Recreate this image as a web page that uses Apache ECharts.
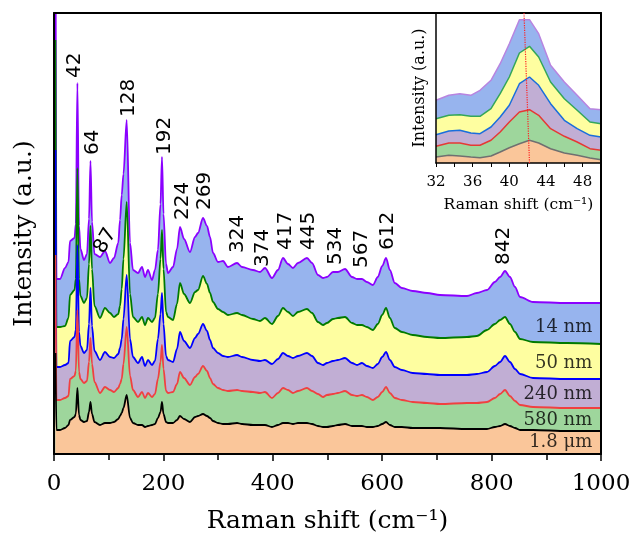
<!DOCTYPE html>
<html><head><meta charset="utf-8">
<script src="https://cdn.jsdelivr.net/npm/echarts@6/dist/echarts.min.js"></script>
<style>html,body{margin:0;padding:0;background:#fff;overflow:hidden}#c{width:634px;height:535px}</style>
</head><body><div id="c"></div>
<script>
// Raman shift positions (cm-1) of the sampled points
const shifts = [2.6,4.5,11,20.1,26.5,29.3,37.5,39.9,42.8,45.7,48.4,54.8,60.3,64,66.7,69.5,74,84.1,93.2,102.4,109.7,117.5,120.7,123.8,127,132.9,139,144.4,153.6,160.9,166.4,171.8,179.2,184.6,190,194.7,197.4,200.2,204.8,208.4,217.6,224.9,230.3,237.7,248.6,257.8,263.3,272.4,279.7,285.2,290.7,299.8,309,318,334.6,343.7,363.8,376.6,385.7,398.5,409.5,418.6,427.8,436.9,446,462.5,471.7,482.6,491.8,499,510,519,532,544.8,554,563,572,583,592,600,607,614,623,636,656,682,705.7,755,773,791.6,806,815.5,824.5,833.6,842.8,852,875.7,937.8,1000];
// stacked (offset) intensities, a.u.
const int14nm = [600,175,175,186,192,213,216,230,371,228,205,194,200,235,293,232,200,197,203,191,196,211,234,259,280,334,211,184,181,187,177,184,174,184,204,250,297,240,190,181,187,205,227,215,202,217,221,236,228,217,201,192,193,187,191,187,184,182,186,176,184,196,190,186,191,196,191,179,176,177,182,182,185,177,175,175,172,169,177,188,196,184,171,166,163,161,159,158,161,164,172,177,183,177,167,157,152,151,151];
const int50nm = [414,127,127,128,136,159,164,175,286,175,158,151,156,190,228,185,148,136,146,141,137,140,148,165,195,252,160,137,132,137,129,136,132,136,160,195,224,185,142,137,134,150,171,160,151,162,164,178,170,161,152,145,142,139,141,139,135,133,136,130,138,146,142,138,142,145,141,132,129,131,135,136,137,131,129,129,127,124,130,139,146,136,126,122,119,117,116,117,118,124,130,134,137,130,122,115,112,111,110];
const int240nm = [304,87,87,89,91,113,117,124,209,122,108,101,104,130,166,128,103,94,102,97,96,100,106,115,135,179,115,97,91,97,88,94,89,93,115,140,161,130,98,94,92,105,122,113,106,116,120,130,123,114,106,101,98,97,99,97,94,93,94,90,95,101,98,96,98,101,98,91,89,91,93,94,96,91,89,91,88,86,90,97,102,94,87,84,81,80,79,79,80,82,88,92,98,92,85,80,76,75,75];
const int580nm = [199,54,54,56,58,75,78,83,144,82,75,71,73,92,116,90,72,61,67,64,62,66,70,75,90,127,78,64,57,62,56,61,57,60,75,92,109,85,63,61,62,70,82,76,69,77,80,88,83,76,70,66,64,63,64,63,62,61,62,56,61,66,64,61,63,66,63,60,57,59,60,61,63,59,58,59,57,54,57,62,67,61,56,54,52,51,50,51,51,52,56,60,64,58,53,49,47,46,46];
const int1p8um = [101,24,24,26,29,34,37,40,66,39,34,32,33,42,52,40,32,29,31,31,32,35,38,41,46,59,36,31,29,29,27,28,29,30,36,42,52,40,32,31,31,34,38,35,32,37,38,40,38,36,33,31,30,30,31,30,29,29,29,27,29,31,31,30,31,31,30,28,27,27,28,29,30,28,28,28,27,27,28,30,32,29,27,27,26,26,26,25,25,25,27,28,30,28,26,24,24,23,23];
const sampleNames = ['14 nm','50 nm','240 nm','580 nm','1.8 μm'];
const sampleLabelY = [127, 91, 60, 34, 12];
// peak annotations
const peakLabels = ['42','64','87','128','192','224','269','324','374','417','445','534','567','612','842'];
const peakLabelX = [37.5,70.4,82.3,136.2,202,235.8,276,336.4,382,424,466,515.5,563,610.6,822.7];
const peakLabelY = [376,299,202,337,299,234,244,201,187,204,204,189,186,204,189];
// inset (zoom of the 42 cm-1 mode)
const insetShift = [32,33.4,34.6,35.8,36.8,38,39,40,41.1,42.2,43.2,44.5,46,47.4,48.8,50];
const inset14nm = [62.7,67.7,69.3,67.7,72.7,82.7,99.3,119.3,143.3,143.3,129.3,97.7,81,67.7,54.3,53.3];
const inset50nm = [44.3,47.7,48.3,46.7,46.7,54.3,69.3,86,110,116.7,106,81,64.3,52.7,41,39.3];
const inset240nm = [28.3,32,32.7,30,29.3,36,46,57.7,79.3,86,77.7,59.3,42.7,34.3,27.7,26];
const inset580nm = [16.7,20,20,17.7,17.7,22.7,31,41,51,53.3,47.7,34.3,26.7,21,14.3,12.7];
const inset1p8um = [6,7.7,7,6,5.3,7,11,15.3,19.3,22.7,20,14.3,10,7.7,5,3.3];
const insetPeakLine = [[41.6,150],[42.2,0]];

const mainSets = [int14nm,int50nm,int240nm,int580nm,int1p8um];
const insetSets = [inset14nm,inset50nm,inset240nm,inset580nm,inset1p8um];
const lineColors = ['#8b00ff','#007a00','#0000ff','#f04040','#000000'];
const insetLineColors = ['#b884e0','#33a65a','#1a6edc','#e53935','#707070'];
const fillColors = ['#97b4ee','#fefea0','#c1aed4','#9ed69c','#fac69a'];
const serif = 'DejaVu Serif';

const series = [];
mainSets.forEach((arr,k)=>{
  series.push({type:'line', xAxisIndex:0, yAxisIndex:0, data: shifts.map((x,i)=>[x,arr[i]]),
    symbol:'none', smooth:0.3, smoothMonotone:'x', clip:true,
    lineStyle:{color:lineColors[k], width:1.8}, areaStyle:{color:fillColors[k], opacity:1}, z:2+k});
});
insetSets.forEach((arr,k)=>{
  series.push({type:'line', xAxisIndex:2, yAxisIndex:2, data: insetShift.map((x,i)=>[x,arr[i]]),
    symbol:'none', smooth:false, clip:true,
    lineStyle:{color:insetLineColors[k], width:1.5}, areaStyle:{color:fillColors[k], opacity:1}, z:2+k});
});
series.push({type:'line', xAxisIndex:2, yAxisIndex:2, data: insetPeakLine, symbol:'none',
  lineStyle:{color:'#ff2020', width:1.2, type:'dotted'}, z:20});
series.push({type:'scatter', xAxisIndex:0, yAxisIndex:0, symbolSize:0, z:30,
  data: peakLabelX.map((x,i)=>({value:[x,peakLabelY[i]], label:{formatter:peakLabels[i], rotate: i===2?60:90, color:'#000'}})),
  label:{show:true, position:[0,0], align:'left', verticalAlign:'middle', fontFamily:'DejaVu Sans', fontSize:20, color:'#000', opacity:1}});
series.push({type:'scatter', xAxisIndex:0, yAxisIndex:0, symbolSize:0, z:30,
  data: sampleNames.map((n,i)=>({value:[984, sampleLabelY[i]], label:{formatter:n, color:'#000'}})),
  label:{show:true, position:[0,0], align:'right', verticalAlign:'middle', fontFamily:serif, fontSize:18, color:'#000'}});

const chart = echarts.init(document.getElementById('c'), null, {renderer:'canvas'});
chart.setOption({
  animation:false,
  backgroundColor:'#fff',
  grid:[{left:54, top:13, width:547, height:441, containLabel:false, outerBoundsMode:'none'},
        {left:436, top:13, width:165, height:150, show:true, backgroundColor:'#fff', borderWidth:0, containLabel:false, outerBoundsMode:'none'}],
  xAxis:[
    {type:'value', gridIndex:0, min:0, max:1000, interval:200, z:10,
     axisLine:{lineStyle:{color:'#000', width:2}}, axisTick:{length:7, lineStyle:{color:'#000', width:1.5}},
     minorTick:{show:true, splitNumber:2, length:6, lineStyle:{color:'#000', width:1.5}},
     splitLine:{show:false}, axisLabel:{fontFamily:serif, fontSize:23, color:'#000', margin:19, formatter:(v)=>String(v)},
     name:'Raman shift (cm⁻¹)', nameLocation:'middle', nameGap:55, nameTextStyle:{fontFamily:serif, fontSize:25, color:'#000'}},
    {type:'value', gridIndex:0, position:'top', min:0, max:1, z:10, axisLine:{show:true, onZero:false, lineStyle:{color:'#000', width:2}},
     axisTick:{show:false}, axisLabel:{show:false}, splitLine:{show:false}},
    {type:'value', gridIndex:1, min:32, max:50, interval:4, z:10,
     axisLine:{lineStyle:{color:'#000', width:1.5}}, axisTick:{length:4, lineStyle:{color:'#000', width:1}},
     minorTick:{show:true, splitNumber:2, length:4, lineStyle:{color:'#000', width:1}},
     splitLine:{show:false}, axisLabel:{fontFamily:serif, fontSize:15, color:'#000', margin:12, showMaxLabel:false},
     name:'Raman shift (cm⁻¹)', nameLocation:'middle', nameGap:34, nameTextStyle:{fontFamily:serif, fontSize:15.5, color:'#000'}}
  ],
  yAxis:[
    {type:'value', gridIndex:0, min:0, max:441, z:10, axisLine:{show:true, lineStyle:{color:'#000', width:2}},
     axisTick:{show:false}, axisLabel:{show:false}, splitLine:{show:false},
     name:'Intensity (a.u.)', nameLocation:'middle', nameGap:17, nameTextStyle:{fontFamily:serif, fontSize:25, color:'#000'}},
    {type:'value', gridIndex:0, position:'right', min:0, max:1, z:10, axisLine:{show:true, onZero:false, lineStyle:{color:'#000', width:2}},
     axisTick:{show:false}, axisLabel:{show:false}, splitLine:{show:false}},
    {type:'value', gridIndex:1, min:0, max:150, z:10, axisLine:{show:true, lineStyle:{color:'#000', width:1.5}},
     axisTick:{show:false}, axisLabel:{show:false}, splitLine:{show:false},
     name:'Intensity (a.u.)', nameLocation:'middle', nameGap:8, nameTextStyle:{fontFamily:serif, fontSize:16, color:'#000'}}
  ],
  series: series
});
</script></body></html>
